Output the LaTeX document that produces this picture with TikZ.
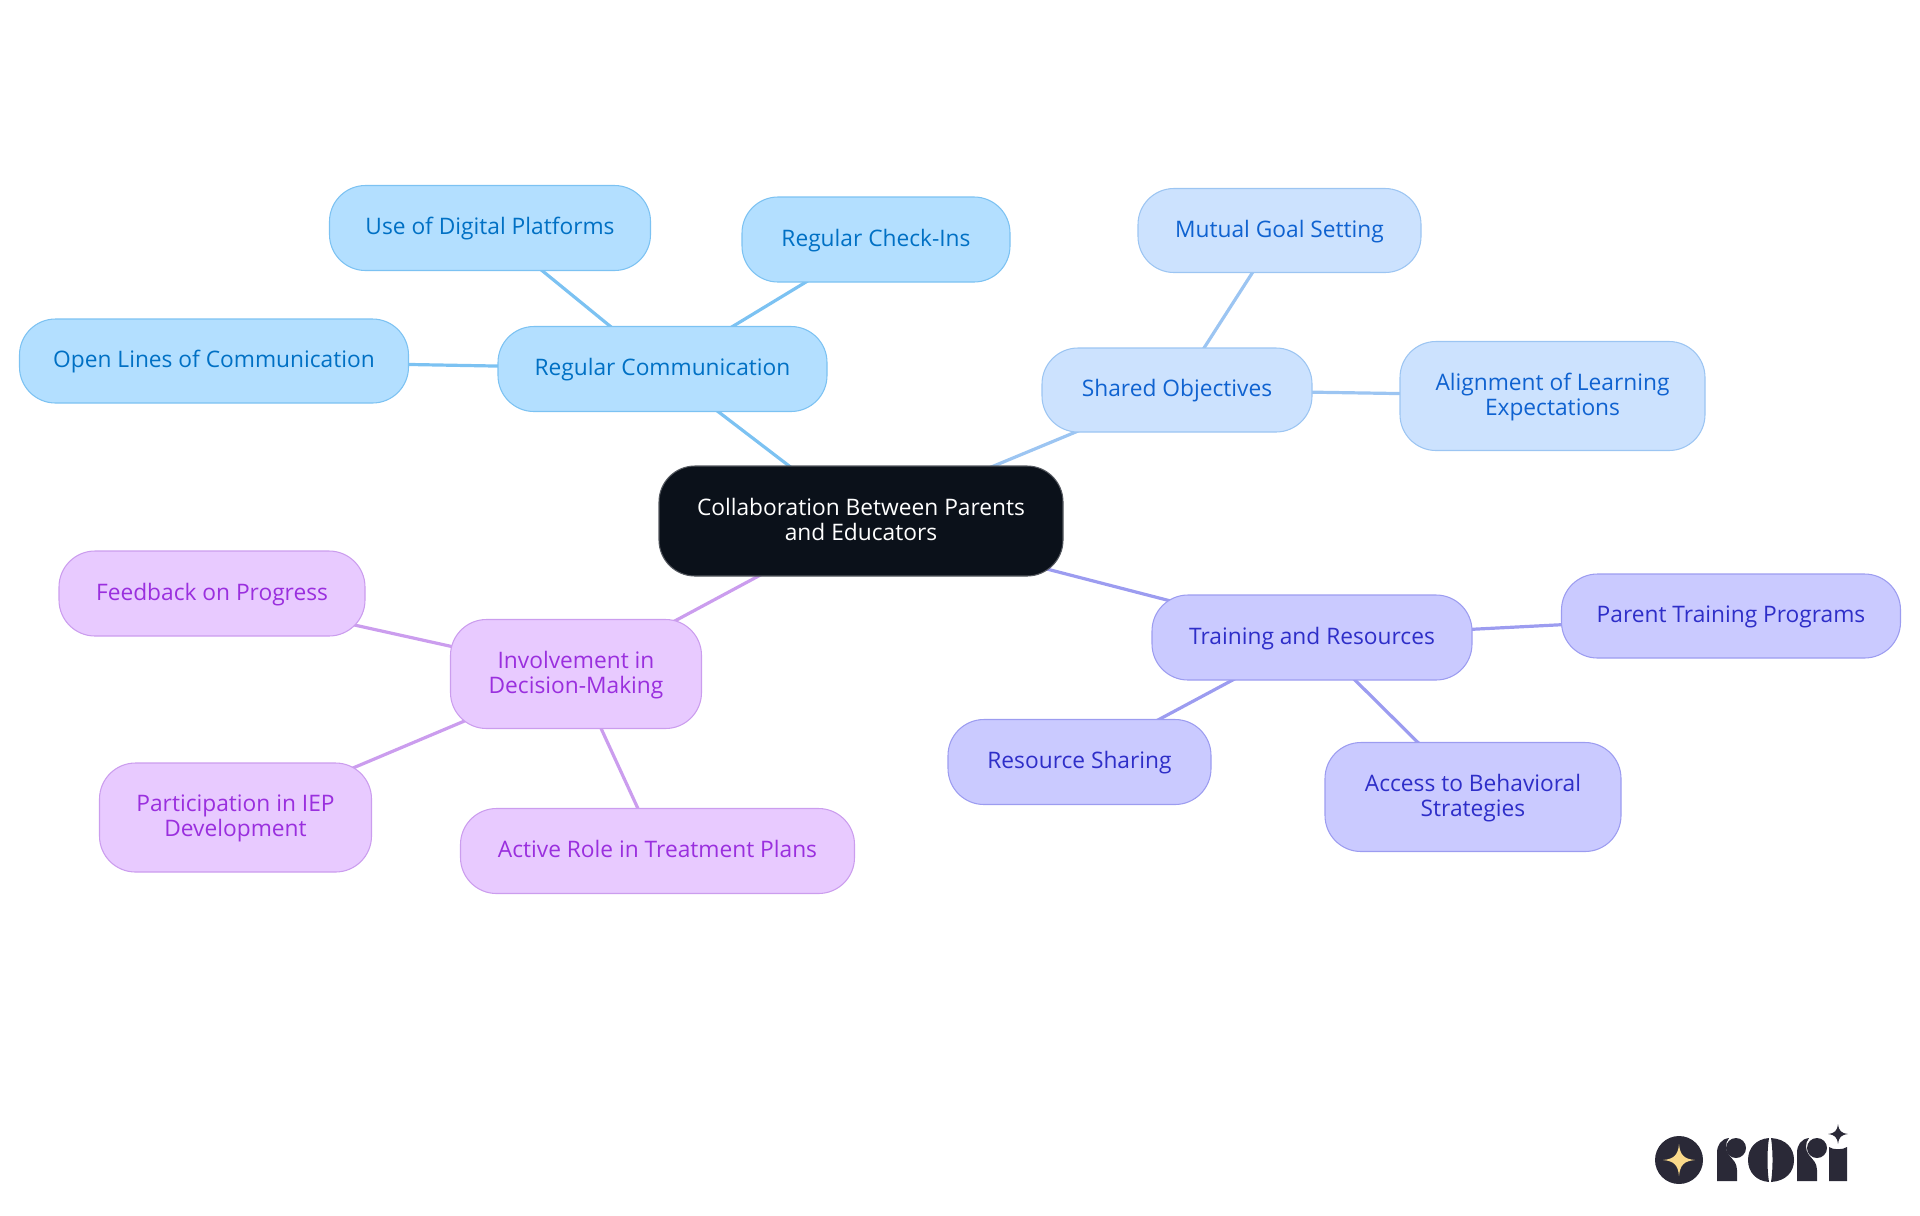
\documentclass[tikz,border=0pt]{standalone}
\usepackage{fontspec}
\setmainfont{Open Sans}
\usetikzlibrary{backgrounds}
\newcommand\st{\rule[-4.25pt]{0pt}{18.25pt}}
\definecolor{cdark}{HTML}{0B111A}
\definecolor{cAfill}{HTML}{B3DFFF}\definecolor{cAline}{HTML}{7CC2F2}\definecolor{cAtext}{HTML}{0070C4}
\definecolor{cBfill}{HTML}{CCE2FE}\definecolor{cBline}{HTML}{9CC5F2}\definecolor{cBtext}{HTML}{0F62D0}
\definecolor{cCfill}{HTML}{CACAFF}\definecolor{cCline}{HTML}{9C9CF0}\definecolor{cCtext}{HTML}{2E2EC8}
\definecolor{cDfill}{HTML}{E8CAFF}\definecolor{cDline}{HTML}{CB9DEE}\definecolor{cDtext}{HTML}{9A2FDE}
\definecolor{clogo}{HTML}{2A2937}\definecolor{cstar}{HTML}{F9D98A}
\tikzset{
  box/.style 2 args={draw, rectangle, rounded corners=27pt, line width=0.8pt, align=center, inner sep=0pt,
    font=\fontsize{17.05}{18.75}\selectfont, minimum width=#1*0.75pt, minimum height=#2*0.75pt},
  rootbox/.style={fill=cdark, draw=cdark!70!white, text=white},
  fa/.style={fill=cAfill, draw=cAline, text=cAtext},
  fb/.style={fill=cBfill, draw=cBline, text=cBtext},
  fc/.style={fill=cCfill, draw=cCline, text=cCtext},
  fd/.style={fill=cDfill, draw=cDline, text=cDtext},
  link/.style={line width=2.4pt},
}
\begin{document}
\begin{tikzpicture}[x=0.75pt,y=-0.75pt]
\useasboundingbox (0,0) rectangle (1920,1215);
\node[box={404}{110},rootbox] (root) at (861,521) {\st Collaboration Between Parents\\\st and Educators};
\node[box={329}{85},fa] (comm) at (662.5,369) {\st Regular Communication};
\node[box={321}{85},fa] (digital) at (490,228) {\st Use of Digital Platforms};
\node[box={268}{85},fa] (check) at (876,239.5) {\st Regular Check-Ins};
\node[box={389}{84},fa] (open) at (214,361) {\st Open Lines of Communication};
\node[box={270}{84},fb] (shared) at (1177,390) {\st Shared Objectives};
\node[box={283}{84},fb] (mutual) at (1279.5,230.5) {\st Mutual Goal Setting};
\node[box={305}{109},fb] (align) at (1552.5,396) {\st Alignment of Learning\\\st Expectations};
\node[box={320}{85},fc] (train) at (1312,637.5) {\st Training and Resources};
\node[box={339}{84},fc] (parent) at (1731,616) {\st Parent Training Programs};
\node[box={263}{85},fc] (resource) at (1079.5,762) {\st Resource Sharing};
\node[box={296}{109},fc] (access) at (1473,797) {\st Access to Behavioral\\\st Strategies};
\node[box={251}{109},fd] (involve) at (576,674) {\st Involvement in\\\st Decision-Making};
\node[box={306}{85},fd] (feedback) at (212,593.5) {\st Feedback on Progress};
\node[box={272}{109},fd] (iep) at (235.5,817.5) {\st Participation in IEP\\\st Development};
\node[box={394}{85},fd] (active) at (657.5,851) {\st Active Role in Treatment Plans};
\begin{scope}[on background layer]
\draw[link,cAline] (root.center)--(comm.center);
\draw[link,cAline] (comm.center)--(digital.center);
\draw[link,cAline] (comm.center)--(check.center);
\draw[link,cAline] (comm.center)--(open.center);
\draw[link,cBline] (root.center)--(shared.center);
\draw[link,cBline] (shared.center)--(mutual.center);
\draw[link,cBline] (shared.center)--(align.center);
\draw[link,cCline] (root.center)--(train.center);
\draw[link,cCline] (train.center)--(parent.center);
\draw[link,cCline] (train.center)--(resource.center);
\draw[link,cCline] (train.center)--(access.center);
\draw[link,cDline] (root.center)--(involve.center);
\draw[link,cDline] (involve.center)--(feedback.center);
\draw[link,cDline] (involve.center)--(iep.center);
\draw[link,cDline] (involve.center)--(active.center);
\end{scope}
% logo
\fill[clogo] (1679,1160) circle (24);
\fill[cstar] (1679,1144) .. controls (1680,1155) and (1684,1159) .. (1695,1160) .. controls (1684,1161) and (1680,1165) .. (1679,1176) .. controls (1678,1165) and (1674,1161) .. (1663,1160) .. controls (1674,1159) and (1678,1155) .. (1679,1144) -- cycle;
\fill[clogo] (1717,1181) -- (1717,1153) .. controls (1717,1145) and (1721,1139) .. (1729,1138) .. controls (1725,1143) and (1725,1150) .. (1729,1155) .. controls (1733,1160) and (1737,1163) .. (1737,1170) -- (1737,1181) -- cycle;
\fill[clogo] (1736,1148) circle (10);
\fill[clogo] (1769,1138) .. controls (1756,1139) and (1748,1148) .. (1748,1160) .. controls (1748,1172) and (1756,1181) .. (1769,1182) .. controls (1767,1170) and (1767,1150) .. (1769,1138) -- cycle;
\fill[clogo] (1771,1138) .. controls (1786,1139) and (1794,1148) .. (1794,1160) .. controls (1794,1172) and (1786,1181) .. (1771,1182) .. controls (1773,1170) and (1773,1150) .. (1771,1138) -- cycle;
\fill[clogo] (1797,1181) -- (1797,1153) .. controls (1797,1145) and (1801,1139) .. (1809,1138) .. controls (1805,1143) and (1805,1150) .. (1809,1155) .. controls (1813,1160) and (1817,1163) .. (1817,1170) -- (1817,1181) -- cycle;
\fill[clogo] (1817,1148) circle (10);
\fill[clogo] (1829,1181) -- (1829,1147) .. controls (1833,1150) and (1843,1150) .. (1847,1147) -- (1847,1181) -- cycle;
\fill[clogo] (1838,1124) .. controls (1839,1131) and (1841,1133) .. (1848,1134) .. controls (1841,1135) and (1839,1137) .. (1838,1144) .. controls (1837,1137) and (1835,1135) .. (1828,1134) .. controls (1835,1133) and (1837,1131) .. (1838,1124) -- cycle;
\end{tikzpicture}
\end{document}
